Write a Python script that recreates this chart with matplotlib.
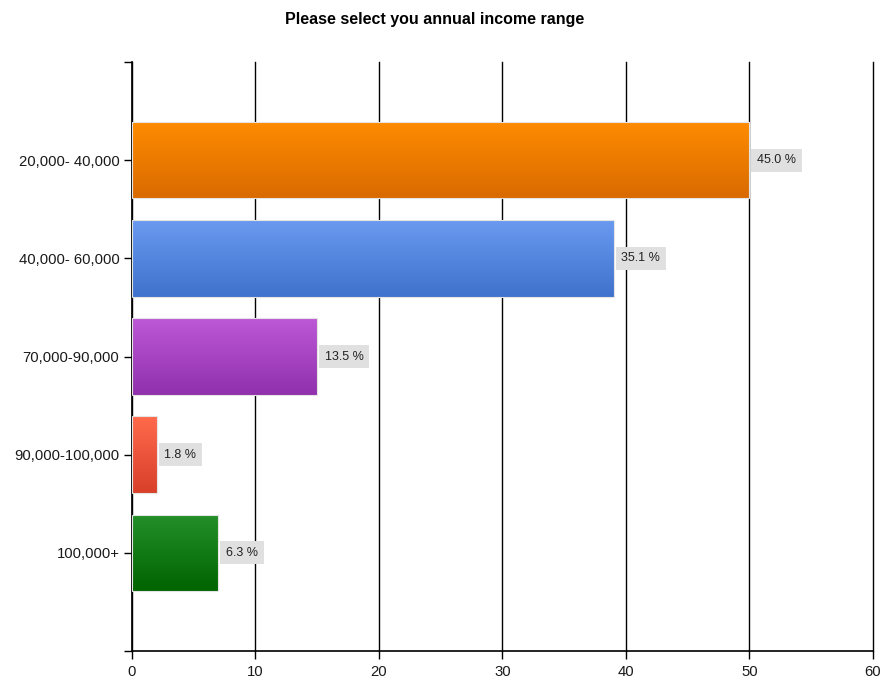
import numpy as np
import matplotlib.pyplot as plt
from matplotlib.colors import LinearSegmentedColormap

plt.rcParams['font.family'] = ['Liberation Sans', 'DejaVu Sans']

# survey answers
categories = ['20,000- 40,000', '40,000- 60,000', '70,000-90,000', '90,000-100,000', '100,000+']
counts = [50, 39, 15, 2, 7]
percent_labels = ['45.0 %', '35.1 %', '13.5 %', '1.8 %', '6.3 %']
x_ticks = [0, 10, 20, 30, 40, 50, 60]

# top / bottom colours of each bar gradient
bar_top = ['#ff8c00', '#6a9af0', '#bd58d6', '#ff6a4c', '#24902a']
bar_bottom = ['#d96a00', '#3f72cc', '#9030ac', '#d8402a', '#006400']

fig = plt.figure(figsize=(8.87, 6.84), dpi=100)
ax = fig.add_axes([0.1488, 0.0482, 0.8354, 0.8612])

ypos = np.arange(1, len(categories) + 1)
bars = ax.barh(ypos, counts, height=0.78, facecolor='none',
               edgecolor='#e4e4e4', linewidth=0.8, zorder=3)

grad = np.linspace(0, 1, 256).reshape(-1, 1)
for bar, c_top, c_bot in zip(bars, bar_top, bar_bottom):
    cmap = LinearSegmentedColormap.from_list('g', [c_top, c_bot])
    x0, y0 = bar.get_x(), bar.get_y()
    w, h = bar.get_width(), bar.get_height()
    im = ax.imshow(grad, cmap=cmap, aspect='auto', origin='upper',
                   extent=(x0, x0 + w, y0 + h, y0), zorder=2)
    im.set_clip_path(bar)

for y, v, lab in zip(ypos, counts, percent_labels):
    ax.annotate(lab, (v, y), xytext=(5.5, 0), textcoords='offset points',
                va='center', ha='left', fontsize=9, color='#222222',
                bbox=dict(boxstyle='square,pad=0.45', fc='#e0e0e0', ec='none'),
                zorder=4)

ax.set_xlim(0, 60)
ax.set_ylim(6, 0)
ax.set_xticks(x_ticks)
ax.set_yticks([0] + list(ypos) + [6])
ax.set_yticklabels([''] + categories + [''])
ax.tick_params(axis='both', length=6, width=1, colors='black', labelsize=10.7,
               labelcolor='#1a1a1a')
ax.tick_params(axis='y', pad=3)
ax.tick_params(axis='x', pad=4)

ax.grid(axis='x', color='black', linewidth=1, zorder=1)
ax.set_axisbelow(True)
for line in ax.get_xgridlines():
    line.set_clip_on(False)
for side in ['top', 'right']:
    ax.spines[side].set_visible(False)
for side in ['left', 'bottom']:
    ax.spines[side].set_linewidth(1.2)

fig.text(0.49, 0.972, 'Please select you annual income range',
         ha='center', va='center', fontsize=11.5, fontweight='bold')

fig.savefig('out.png', dpi=100)
